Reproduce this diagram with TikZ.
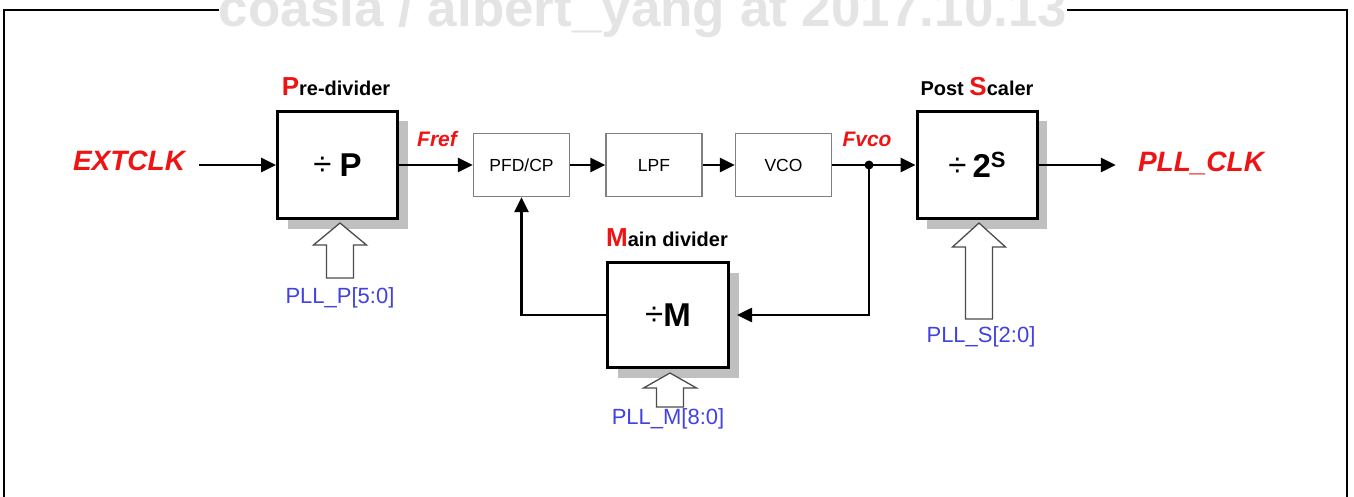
\documentclass[tikz,border=0pt]{standalone}
\usepackage{fontspec}
\setmainfont{Liberation Sans}
\usetikzlibrary{arrows.meta,shadows}
\definecolor{tred}{RGB}{238,20,20}
\definecolor{tblue}{RGB}{66,66,226}
\definecolor{shade}{RGB}{192,192,192}
\definecolor{wmark}{RGB}{228,228,228}
\definecolor{thinbox}{RGB}{128,128,128}
\newcommand{\fs}[1]{\fontsize{#1}{#1}\selectfont}
\newcommand{\hollowup}[4]{% tip x, tip y, total length, head height
  \draw[line width=1.3pt, draw=black!70, fill=white] (#1,#2) -- ++(26.5,#4) -- ++(-13,0) -- ++(0,#3-#4) -- ++(-27,0) -- ++(0,-#3+#4) -- ++(-13,0) -- cycle;}
\begin{document}
\begin{tikzpicture}[x=1pt,y=-1pt,
  bigbox/.style={draw, line width=3pt, fill=white, inner sep=0pt,
    minimum width=120pt, minimum height=107pt,
    drop shadow={shadow xshift=10pt, shadow yshift=-10pt, fill=shade, opacity=1}},
  smallbox/.style={draw=thinbox, line width=1.3pt, fill=white, inner sep=0pt,
    minimum width=96pt, minimum height=63pt, font=\fs{17.5}},
  flow/.style={line width=2.6pt, -{Triangle[length=15pt,width=14pt]}},
  sig/.style={text=tred, font=\fs{21}\bfseries\itshape, inner sep=0pt},
  big/.style={text=tred, font=\fs{28}\bfseries\itshape, inner sep=0pt},
  title/.style={font=\fs{20}\bfseries, inner sep=0pt},
  reg/.style={text=tblue, font=\fs{22}, inner sep=0pt}]
\useasboundingbox (0,0) rectangle (1354,497);
\fill[white] (0,0) rectangle (1354,497);
% frame
\draw[line width=2pt] (4,10) rectangle (1347,520);
% watermark
\node[anchor=base, fill=white, text=wmark, inner sep=0pt, font=\fs{53}\bfseries] (wm) at (643,27) {coasia / albert\_yang at 2017.10.13};
% blocks
\node[bigbox] (pre) at (337.5,165) {\fs{33}\raisebox{1pt}{÷}\hspace{8pt}\textbf{P}};
\node[smallbox] (pfd) at (521.5,165) {PFD/CP};
\node[smallbox] (lpf) at (654,165) {LPF};
\node[smallbox] (vco) at (783.5,165) {VCO};
\node[bigbox] (post) at (977,165) {\fs{33}\raisebox{1pt}{÷}\hspace{6pt}\textbf{2\raisebox{10pt}{\fs{22}S}}};
\node[bigbox, minimum width=121pt, minimum height=105pt] (main) at (668,315) {\fs{33}\raisebox{1pt}{÷}\textbf{M}};
% titles
\node[title] (pret) at (336,87) {\textcolor{tred}{\fs{26}P}re-divider};
\node[title] (postt) at (977,87) {Post \textcolor{tred}{\fs{26}S}caler};
\node[title] (maint) at (667,238) {\textcolor{tred}{\fs{26}M}ain divider};
% signals
\node[big] (ext) at (129,161) {EXTCLK};
\node[big] (clk) at (1201,163) {PLL\_CLK};
\node[sig] (fref) at (437,139) {Fref};
\node[sig] (fvco) at (867,139) {Fvco};
% connectors
\coordinate (j) at (869,165);
\draw[flow, shorten <=14pt] (ext.east |- pre.west) -- (pre.west);
\draw[flow] (pre.east) -- (pfd.west);
\draw[flow] (pfd.east) -- (lpf.west);
\draw[flow] (lpf.east) -- (vco.west);
\draw[flow] (vco.east) -- (post.west);
\draw[flow, shorten >=22pt] (post.east) -- (post.east -| clk.west);
\draw[flow] (j) |- ([xshift=7pt]main.east);
\draw[flow] (main.west) -| (pfd.south);
\fill (j) circle (4.5pt);
% register inputs
\hollowup{340}{223}{55}{22}
\hollowup{979}{223}{96}{24}
\hollowup{670}{373}{34}{15}
\node[reg] (pp) at (340,298) {PLL\_P[5:0]};
\node[reg] (ps) at (981,337) {PLL\_S[2:0]};
\node[reg] (pm) at (668,419) {PLL\_M[8:0]};
\end{tikzpicture}
\end{document}
